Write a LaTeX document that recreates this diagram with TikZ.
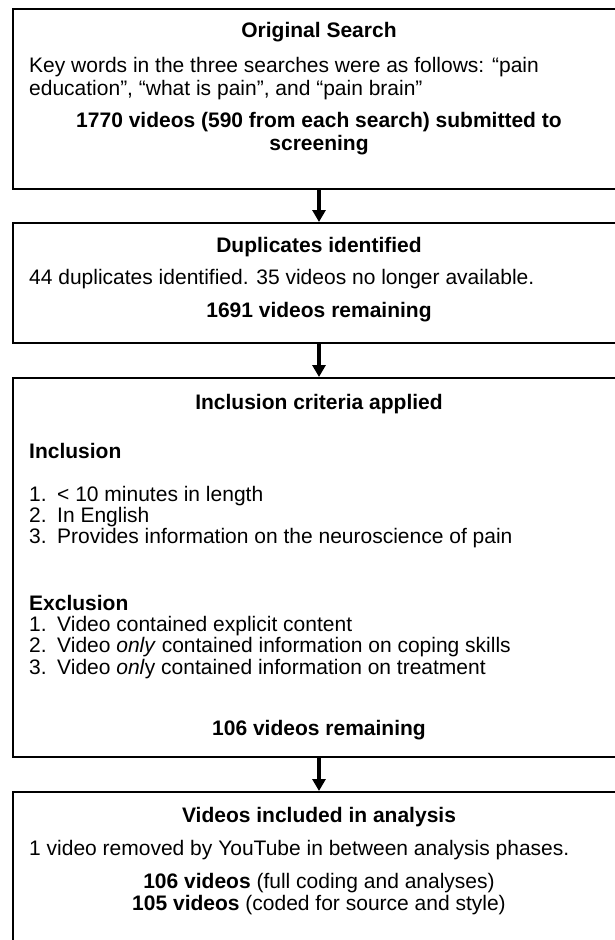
\documentclass[tikz,border=0pt]{standalone}
\usepackage{fontspec}
\setmainfont{Liberation Sans}
\usetikzlibrary{arrows.meta}

\newcommand{\flowfont}{\fontsize{21}{24}\selectfont}
\newcommand{\itemno}[1]{\makebox[28pt][l]{#1}}

\tikzset{
	stagebox/.style={draw, line width=2pt, minimum width=612pt, inner sep=0pt},
	flowarrow/.style={line width=4pt, -{Triangle[length=12pt,width=13pt]}},
	headline/.style={anchor=base, inner sep=0pt, font=\flowfont\bfseries},
	midline/.style={anchor=base, inner sep=0pt, font=\flowfont},
	leftline/.style={anchor=base west, inner sep=0pt, font=\flowfont},
}

\begin{document}
\begin{tikzpicture}[x=1pt,y=-1pt]
	\useasboundingbox (0,0) rectangle (615,940);
	\clip (0,0) rectangle (615,940);
	%
	\node[stagebox, minimum height=180pt] (search)   at (319,99)    {};
	\node[stagebox, minimum height=120pt] (dupes)    at (319,283)   {};
	\node[stagebox, minimum height=379pt] (criteria) at (319,567.5) {};
	\node[stagebox, minimum height=170pt] (analysis) at (319,877)   {};
	%
	%search box
	\node[headline] (searchhead) at (319,37)  {Original Search};
	\node[leftline] (keys1)      at (29,72)   {Key words in the three searches were as follows: “pain};
	\node[leftline] (keys2)      at (29,95)   {education”, “what is pain”, and “pain brain”};
	\node[headline] (submit1)    at (319,127) {1770 videos (590 from each search) submitted to};
	\node[headline] (submit2)    at (319,150) {screening};
	%
	%duplicates box
	\node[headline] (dupeshead)  at (319,252) {Duplicates identified};
	\node[leftline] (dupesinfo)  at (29,284)  {44 duplicates identified. 35 videos no longer available.};
	\node[headline] (dupesleft)  at (319,317) {1691 videos remaining};
	%
	%criteria box
	\node[headline] (crithead)   at (319,409) {Inclusion criteria applied};
	\node[leftline, font=\flowfont\bfseries] (inhead) at (29,458) {Inclusion};
	\node[leftline] (in1) at (29,501)   {\itemno{1.}< 10 minutes in length};
	\node[leftline] (in2) at (29,522) {\itemno{2.}In English};
	\node[leftline] (in3) at (29,543)   {\itemno{3.}Provides information on the neuroscience of pain};
	\node[leftline, font=\flowfont\bfseries] (exhead) at (29,610) {Exclusion};
	\node[leftline] (ex1) at (29,631)   {\itemno{1.}Video contained explicit content};
	\node[leftline] (ex2) at (29,652)   {\itemno{2.}Video \textit{only} contained information on coping skills};
	\node[leftline] (ex3) at (29,674)   {\itemno{3.}Video \textit{onl}y contained information on treatment};
	\node[headline] (critleft)   at (319,735) {106 videos remaining};
	%
	%analysis box
	\node[headline] (anahead)    at (319,822) {Videos included in analysis};
	\node[leftline] (anainfo)    at (29,855)  {1 video removed by YouTube in between analysis phases.};
	\node[midline]  (anafull)    at (319,888) {\textbf{106 videos} (full coding and analyses)};
	\node[midline]  (anacoded)   at (319,910) {\textbf{105 videos} (coded for source and style)};
	%
	%arrows
	\draw[flowarrow] (search.south)   -- (dupes.north);
	\draw[flowarrow] (dupes.south)    -- (criteria.north);
	\draw[flowarrow] (criteria.south) -- (analysis.north);
\end{tikzpicture}
\end{document}
